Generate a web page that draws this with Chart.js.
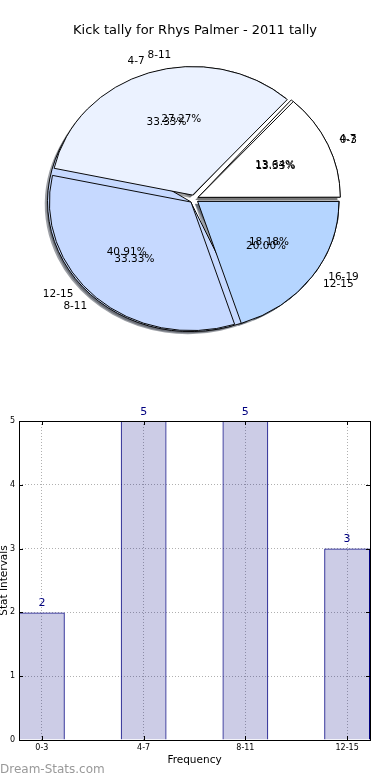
<!DOCTYPE html>
<html>
<head>
<meta charset="utf-8">
<script src="https://cdn.jsdelivr.net/npm/chart.js@4.4.0/dist/chart.umd.min.js"></script>
<style>
html,body{margin:0;padding:0;background:#fff;}
#wrap{position:relative;width:390px;height:780px;overflow:hidden;background:#fff;font-family:"DejaVu Sans",sans-serif;}
#title{position:absolute;left:0;top:21px;width:390px;text-align:center;font-size:13px;line-height:18px;color:#000;white-space:nowrap;}
canvas{position:absolute;left:0;}
</style>
</head>
<body>
<div id="wrap">
  <canvas id="pieA" width="390" height="396" style="top:0"></canvas>
  <canvas id="pieB" width="390" height="396" style="top:0"></canvas>
  <canvas id="bar" width="390" height="385" style="top:395px"></canvas>
  <div id="title"></div>
</div>
<script>
// ---------- data ----------
const titleText = 'Kick tally for Rhys Palmer - 2011 tally';
// pie drawn underneath
const pie1Labels = ['4-7', '8-11', '12-15', '16-19'];
const pie1Values = [3, 6, 9, 4];
// pie drawn on top / bar chart data
const categories = ['0-3', '4-7', '8-11', '12-15'];
const frequency = [2, 5, 5, 3];
const sliceColors = ['#ffffff', '#ebf2ff', '#c6d9ff', '#b5d5ff'];
const yTicks = [0, 1, 2, 3, 4, 5];
const xTitle = 'Frequency';
const yTitle = 'Stat Intervals';
const watermark = 'Dream-Stats.com';

document.getElementById('title').textContent = titleText;

const FONT = '"DejaVu Sans", sans-serif';
const K = 0.908;          // vertical squash of the pie (ellipse)
const EXPLODE = 18;       // Chart.js arc offset (drawn as offset/4 px)
const SHX = -2.8, SHY = 2.6;

let chartA = null, chartB = null;

function rev(a) { return a.slice().reverse(); }

function beginEllipse(chart) {
  const ca = chart.chartArea;
  const cx = (ca.left + ca.right) / 2, cy = (ca.top + ca.bottom) / 2;
  const ctx = chart.ctx;
  ctx.save();
  ctx.translate(cx, cy);
  ctx.scale(1, K);
  ctx.translate(-cx, -cy);
}

function shadowColor(hex) {
  const r = parseInt(hex.slice(1, 3), 16), g = parseInt(hex.slice(3, 5), 16), b = parseInt(hex.slice(5, 7), 16);
  return 'rgba(' + Math.round(r * 0.3) + ',' + Math.round(g * 0.3) + ',' + Math.round(b * 0.3) + ',0.5)';
}

function drawShadows(ctx, charts) {
  charts.forEach(ch => {
    if (!ch) return;
    const meta = ch.getDatasetMeta(0);
    meta.data.forEach(arc => {
      const p = arc.getProps(['x', 'y', 'startAngle', 'endAngle', 'outerRadius', 'circumference']);
      const o = (arc.options.offset || 0) / 4;
      const mid = (p.startAngle + p.endAngle) / 2;
      const fix = 1 - Math.sin(Math.min(Math.PI, p.circumference || 0));
      const ex = p.x + Math.cos(mid) * o + SHX;
      const ey = p.y + Math.sin(mid) * o + SHY / K;
      const r = p.outerRadius + o * fix;
      ctx.beginPath();
      ctx.moveTo(ex, ey);
      ctx.arc(ex, ey, r, p.startAngle, p.endAngle);
      ctx.closePath();
      ctx.fillStyle = shadowColor(arc.options.backgroundColor);
      ctx.fill();
    });
  });
}

function drawPieLabels(ctx, ch) {
  if (!ch) return;
  const meta = ch.getDatasetMeta(0);
  const values = ch.data.datasets[0].data;
  const labels = ch.data.labels;
  const total = values.reduce((s, v) => s + v, 0);
  ctx.save();
  ctx.font = '10.5px ' + FONT;
  ctx.fillStyle = '#000';
  ctx.textBaseline = 'middle';
  meta.data.forEach((arc, i) => {
    const p = arc.getProps(['x', 'y', 'startAngle', 'endAngle', 'outerRadius']);
    const o = (arc.options.offset || 0) / 4;
    const mid = (p.startAngle + p.endAngle) / 2;
    const c = Math.cos(mid), s = Math.sin(mid);
    const ex = p.x + c * o, ey = p.y + K * s * o;
    const R = p.outerRadius;
    // category label
    const lx = ex + 1.1 * R * c, ly = ey + K * 1.1 * R * s;
    ctx.textAlign = (lx - p.x) > 0 ? 'left' : 'right';
    ctx.fillText(labels[i], lx, ly);
    // percentage
    ctx.textAlign = 'center';
    ctx.fillText((values[i] / total * 100).toFixed(2) + '%', ex + 0.6 * R * c, ey + K * 0.6 * R * s);
  });
  ctx.restore();
}

const ellipsePlugin = {
  id: 'ellipse',
  beforeDatasetsDraw(chart) {
    beginEllipse(chart);
    if (chart.canvas.id === 'pieA') drawShadows(chart.ctx, [chart, chartB]);
  },
  afterDatasetsDraw(chart) {
    chart.ctx.restore();
  },
  afterDraw(chart) {
    if (chart.canvas.id === 'pieB') {
      drawPieLabels(chart.ctx, chartA);
      drawPieLabels(chart.ctx, chart);
    }
  }
};

function pieConfig(labels, values) {
  return {
    type: 'pie',
    data: {
      labels: rev(labels),
      datasets: [{
        data: rev(values),
        backgroundColor: rev(sliceColors),
        borderColor: '#000',
        borderWidth: 1,
        offset: EXPLODE,
        clip: false
      }]
    },
    options: {
      responsive: false,
      animation: false,
      events: [],
      devicePixelRatio: 1,
      rotation: 90,
      radius: 141,
      layout: { padding: { left: 0, right: 2, top: 2, bottom: 0 } },
      plugins: { legend: { display: false }, tooltip: { enabled: false }, title: { display: false } }
    },
    plugins: [ellipsePlugin]
  };
}

chartA = new Chart(document.getElementById('pieA'), pieConfig(pie1Labels, pie1Values));
chartB = new Chart(document.getElementById('pieB'), pieConfig(categories, frequency));
chartA.draw();

// ---------- bar chart ----------
const barExtras = {
  id: 'barExtras',
  afterDatasetsDraw(chart) {
    const ctx = chart.ctx;
    const ca = chart.chartArea;
    const xs = chart.scales.x, ys = chart.scales.y;
    ctx.save();
    // value labels
    ctx.font = '11px ' + FONT;
    ctx.fillStyle = '#000080';
    ctx.textAlign = 'center';
    ctx.textBaseline = 'middle';
    const meta = chart.getDatasetMeta(0);
    meta.data.forEach((bar, i) => {
      ctx.fillText(String(frequency[i]), bar.x, bar.y - 9);
    });
    // inner tick marks
    ctx.strokeStyle = '#000';
    ctx.lineWidth = 1;
    ctx.beginPath();
    yTicks.forEach(v => {
      const y = Math.round(ys.getPixelForValue(v)) + 0.5;
      ctx.moveTo(ca.left, y); ctx.lineTo(ca.left + 4, y);
      ctx.moveTo(ca.right, y); ctx.lineTo(ca.right - 4, y);
    });
    categories.forEach((c, i) => {
      const x = Math.round(xs.getPixelForValue(i)) + 0.5;
      ctx.moveTo(x, ca.bottom); ctx.lineTo(x, ca.bottom - 4);
      ctx.moveTo(x, ca.top); ctx.lineTo(x, ca.top + 4);
    });
    ctx.stroke();
    // frame
    ctx.strokeRect(Math.round(ca.left) + 0.5, Math.round(ca.top) + 0.5,
      Math.round(ca.right - ca.left), Math.round(ca.bottom - ca.top));
    ctx.restore();
  },
  afterDraw(chart) {
    const ctx = chart.ctx;
    ctx.save();
    ctx.font = '12px ' + FONT;
    ctx.fillStyle = '#999';
    ctx.textAlign = 'left';
    ctx.textBaseline = 'middle';
    ctx.fillText(watermark, 0, 375);
    ctx.restore();
  }
};

new Chart(document.getElementById('bar'), {
  type: 'bar',
  data: {
    datasets: [{
      data: frequency.map((v, i) => ({ x: i, y: v })),
      backgroundColor: 'rgba(0,0,128,0.2)',
      borderColor: '#000080',
      borderWidth: 1,
      barPercentage: 0.45,
      categoryPercentage: 1
    }]
  },
  options: {
    responsive: false,
    animation: false,
    events: [],
    devicePixelRatio: 1,
    layout: { padding: { top: 26, right: 20, left: 0, bottom: 0 } },
    plugins: { legend: { display: false }, tooltip: { enabled: false } },
    scales: {
      x: {
        type: 'linear',
        offset: false,
        min: -0.225,
        max: 3.225,
        afterBuildTicks: s => { s.ticks = categories.map((c, i) => ({ value: i })); },
        afterFit: s => { s.height = 40; },
        ticks: {
          callback: v => (categories[v] !== undefined ? categories[v] : ''),
          font: { family: FONT, size: 8 },
          color: '#000',
          padding: 3,
          maxRotation: 0,
          autoSkip: false
        },
        grid: { color: '#b0b0b0', drawTicks: false, offset: false },
        border: { display: false, dash: [1, 2] },
        title: { display: true, text: xTitle, color: '#000', font: { family: FONT, size: 10.5 }, padding: { top: 0, bottom: 13.7 } }
      },
      y: {
        min: 0,
        max: 5,
        afterBuildTicks: s => { s.ticks = yTicks.map(v => ({ value: v })); },
        afterFit: s => { s.width = 19; },
        ticks: { font: { family: FONT, size: 8 }, color: '#000', padding: 4 },
        grid: { color: '#b0b0b0', drawTicks: false },
        border: { display: false, dash: [1, 2] },
        title: { display: true, text: yTitle, color: '#000', font: { family: FONT, size: 10.5 }, padding: { top: -2.3, bottom: 0 } }
      }
    }
  },
  plugins: [barExtras]
});
</script>
</body>
</html>
